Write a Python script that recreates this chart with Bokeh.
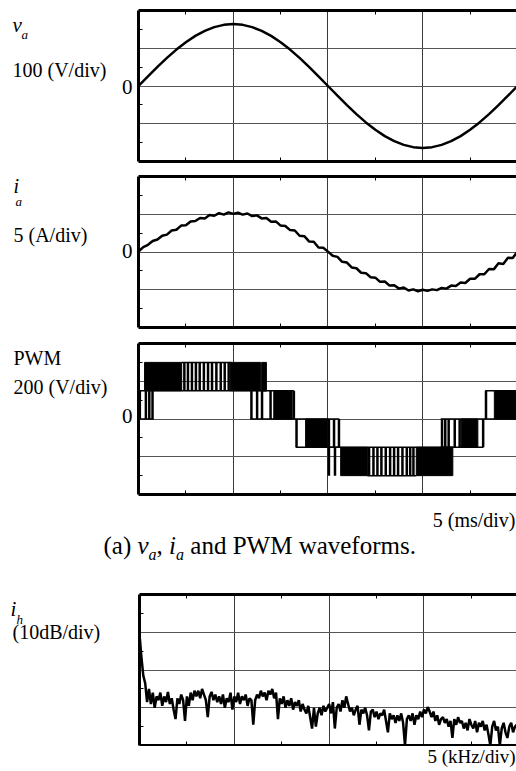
import numpy as np
from bokeh.plotting import figure
from bokeh.models import Range1d, FixedTicker, LinearAxis, Grid
from bokeh.layouts import column, row
from bokeh.core.properties import value
from bokeh.embed import file_html
from bokeh.resources import INLINE

SERIF = "Liberation Serif"

# ---------------- data ----------------
# v_a : phase voltage, 0.5 ms sampling, volts
va_t_ms = np.arange(0, 20.001, 0.5)
va_volts = [0, 25.7, 50.7, 74.5, 96.4, 116.0, 132.7, 146.1, 156.0, 162.0, 164.0,
            162.0, 156.0, 146.1, 132.7, 116.0, 96.4, 74.5, 50.7, 25.7, 0,
            -25.7, -50.7, -74.5, -96.4, -116.0, -132.7, -146.1, -156.0, -162.0, -164.0,
            -162.0, -156.0, -146.1, -132.7, -116.0, -96.4, -74.5, -50.7, -25.7, 0]

# i_a : phase current with switching ripple, 0.25 ms sampling, amperes
ia_t_ms = np.arange(0, 20.001, 0.25)
ia_amps = [0.05, 0.65, 0.95, 1.45, 1.65, 2.15, 2.30, 2.85, 2.95, 3.50,
           3.55, 4.05, 4.10, 4.50, 4.45, 4.90, 4.80, 5.15, 4.95, 5.25,
           5.05, 5.20, 4.95, 5.10, 4.75, 4.85, 4.45, 4.50, 4.00, 4.05,
           3.50, 3.45, 2.90, 2.85, 2.15, 2.10, 1.40, 1.35, 0.60, 0.55,
           0.05, -0.50, -0.65, -1.30, -1.40, -2.05, -2.15, -2.75, -2.80, -3.35,
           -3.40, -3.95, -3.90, -4.45, -4.40, -4.85, -4.70, -5.10, -4.95, -5.20,
           -5.00, -5.15, -4.95, -5.05, -4.75, -4.85, -4.45, -4.50, -4.05, -4.10,
           -3.55, -3.55, -2.95, -2.95, -2.25, -2.30, -1.50, -1.60, -0.75, -0.80,
           0.05]

# PWM : dense switching bands (ms, V)
pwm_block_t0 = [0.32, 4.85, 6.50, 7.14, 8.82, 10.67, 14.66, 17.04, 18.78]
pwm_block_t1 = [2.28, 6.45, 6.75, 8.11, 9.96, 12.08, 16.59, 17.91, 20.0]
pwm_block_lo = [150, 150, 150, 0, -150, -300, -300, -150, 0]
pwm_block_hi = [300, 300, 300, 150, 0, -150, -150, 0, 150]
# PWM : isolated switching pulses (ms, V)
pwm_pulse_t = [0.07, 0.39, 0.57, 0.74,
               2.42, 2.61, 2.82, 3.03, 3.23, 3.45, 3.67, 3.88, 4.11, 4.34, 4.55, 4.76,
               5.96, 6.26, 6.52, 6.97, 8.20,
               8.34, 10.05, 10.32, 10.58,
               10.05, 10.37,
               12.17, 12.40, 12.61, 12.82, 13.05, 13.28, 13.49, 13.70, 13.93, 14.16, 14.34, 14.51,
               16.02, 16.19, 16.37, 16.69, 16.95, 18.19,
               18.34]
pwm_pulse_lo = [0] * 4 + [150] * 12 + [0] * 5 + [-150] * 4 + [-300] * 2 + [-300] * 12 + [-150] * 6 + [0]
pwm_pulse_hi = [150] * 4 + [300] * 12 + [150] * 5 + [0] * 4 + [-150] * 2 + [-150] * 12 + [0] * 6 + [150]
# PWM : output levels held between pulses (ms, V)
pwm_lvl_t0 = [0.0, 0.0, 2.28, 5.90, 6.45, 8.30, 9.90, 12.08, 15.95, 15.95, 18.30]
pwm_lvl_t1 = [0.80, 6.75, 4.90, 10.60, 8.20, 10.65, 16.60, 14.66, 18.20, 20.0, 20.0]
pwm_lvl_v = [0, 150, 300, 0, 150, -150, -150, -300, -150, 0, 150]

# i_h : current harmonic spectrum, 0.1 kHz sampling, dB
spec_khz = np.arange(0, 20.001, 0.1)
spec_db = [-10.5, -16.5, -21.5, -23.5, -28.5, -25.0, -29.0, -26.0, -30.0, -27.0,
           -28.0, -26.0, -29.5, -27.0, -28.5, -25.8, -29.0, -27.5, -30.5, -33.0,
           -27.5, -29.0, -26.5, -28.0, -33.5, -27.0, -29.5, -26.0, -28.0, -25.5,
           -27.0, -25.5, -27.5, -25.0, -26.5, -28.0, -32.5, -27.0, -25.8, -28.0,
           -26.5, -28.5, -27.0, -29.0, -26.5, -30.0, -27.5, -28.5, -26.0, -30.5,
           -27.0, -28.5, -26.0, -29.0, -27.0, -28.0, -26.5, -29.5, -27.5, -28.0,
           -34.5, -28.0, -26.5, -27.5, -25.5, -27.0, -26.0, -28.0, -25.5, -26.5,
           -25.0, -27.5, -26.0, -33.0, -27.5, -29.0, -27.0, -30.0, -28.0, -29.5,
           -27.5, -30.5, -28.5, -29.5, -28.0, -31.0, -29.0, -30.5, -31.5, -29.5,
           -32.5, -35.5, -30.0, -35.0, -31.5, -30.0, -32.0, -29.5, -31.0, -30.0,
           -29.0, -31.5, -28.5, -35.5, -30.0, -29.0, -31.0, -28.0, -30.0, -27.0,
           -29.0, -31.0, -30.0, -32.0, -30.5, -29.5, -34.5, -30.5, -31.5, -30.0,
           -32.0, -36.0, -31.0, -30.5, -32.5, -31.0, -33.0, -31.5, -32.0, -30.5,
           -33.5, -36.5, -31.5, -33.0, -32.0, -34.0, -32.0, -33.5, -31.5, -34.0,
           -40.0, -33.0, -32.0, -33.5, -31.5, -34.5, -32.0, -33.0, -31.0, -32.5,
           -30.5, -31.5, -29.8, -31.0, -32.5, -31.0, -33.5, -32.0, -34.5, -33.0,
           -32.5, -34.0, -33.0, -35.0, -33.5, -38.0, -33.0, -34.5, -32.5, -34.0,
           -33.5, -35.5, -34.0, -36.0, -33.0, -34.5, -35.5, -33.5, -36.5, -34.0,
           -35.0, -33.5, -36.0, -34.5, -37.0, -40.0, -35.0, -33.5, -36.0, -35.0,
           -40.0, -35.5, -34.0, -36.5, -38.0, -35.0, -34.0, -36.5, -35.0, -34.5,
           -35.0]

# ---------------- helpers ----------------
W = 516


def panel(width, height, b_top, b_bottom, x_end, y_lo, y_hi, y_div, x_div):
    p = figure(width=width, height=height, x_range=Range1d(0, x_end), y_range=Range1d(y_lo, y_hi),
               output_backend="svg", toolbar_location=None, title=None,
               x_axis_type=None, y_axis_type=None,
               min_border_left=2, min_border_right=0,
               min_border_top=b_top, min_border_bottom=b_bottom,
               outline_line_color=None, border_fill_color="white",
               background_fill_color="white")
    x_grid = [x_div, 2 * x_div, 3 * x_div]
    y_grid = [y_lo + y_div, y_lo + 2 * y_div, y_lo + 3 * y_div]
    x_ticks = [x_div * (k + 0.5) for k in range(4)]
    y_ticks = [y_lo + y_div * (k + 0.5) for k in range(4)]
    p.add_layout(Grid(dimension=0, ticker=FixedTicker(ticks=x_grid),
                      grid_line_color="#3a3a3a", grid_line_width=1))
    p.add_layout(Grid(dimension=1, ticker=FixedTicker(ticks=y_grid),
                      grid_line_color="#555555", grid_line_width=1))
    for side, ticks in (("left", y_ticks), ("below", x_ticks), ("above", x_ticks)):
        ax = LinearAxis(ticker=FixedTicker(ticks=ticks, minor_ticks=[]),
                        axis_line_color="black", axis_line_width=3,
                        major_tick_in=4, major_tick_out=0,
                        major_tick_line_color="black", major_tick_line_width=1,
                        minor_tick_line_color=None, major_label_text_color=None,
                        major_label_standoff=0, major_label_text_font_size="0px")
        p.add_layout(ax, side)
    return p


def text_fig(w, h, b_top, b_bottom, page_top):
    # frame spans page rows (page_top + b_top) .. (page_top + h - b_bottom); y axis = page pixel row
    t = figure(width=w, height=h, x_range=Range1d(0, w),
               y_range=Range1d(page_top + h - b_bottom, page_top + b_top),
               output_backend="svg", toolbar_location=None, title=None,
               x_axis_type=None, y_axis_type=None,
               min_border_left=0, min_border_right=0,
               min_border_top=b_top, min_border_bottom=b_bottom,
               outline_line_color=None, border_fill_color="white",
               background_fill_color="white")
    return t


def put(t, x, base, s, size, italic=False, align="left"):
    # base = page row of the text baseline; the drawn anchor sits ~0.4 em above it
    t.text(x=[x], y=[base - 0.4 * size], text=[s], text_font=value(SERIF),
           text_font_size=value(f"{size}px"),
           text_font_style="italic" if italic else "normal",
           text_align=align, text_baseline="alphabetic", text_color="black")


# ---------------- panel 1: v_a  (page y 0..169) ----------------
p1 = panel(380, 169, 10, 8, 19.95, -200, 200, 100, 5)
p1.line(va_t_ms, va_volts, line_color="black", line_width=2.5)
l1 = text_fig(136, 169, 10, 8, 0)
put(l1, 12, 33, "v", 21, italic=True)
put(l1, 21, 39, "a", 13, italic=True)
put(l1, 12, 77, "100 (V/div)", 20)
put(l1, 132, 95, "0", 21, align="right")

# ---------------- panel 2: i_a  (page y 169..335) ----------------
p2 = panel(380, 166, 7, 8, 19.95, -10, 10, 5, 5)
p2.line(ia_t_ms, ia_amps, line_color="black", line_width=2.5)
l2 = text_fig(136, 166, 7, 8, 169)
put(l2, 13, 193, "i", 20, italic=True)
put(l2, 15, 206, "a", 13, italic=True)
put(l2, 13, 242, "5 (A/div)", 20)
put(l2, 132, 259, "0", 21, align="right")

# ---------------- panel 3: PWM  (page y 335..496) ----------------
p3 = panel(380, 161, 8, 2, 19.95, -400, 400, 200, 5)
p3.quad(left=pwm_block_t0, right=pwm_block_t1, bottom=pwm_block_lo, top=pwm_block_hi,
        fill_color="black", line_color="black", line_width=1)
p3.segment(x0=pwm_lvl_t0, y0=pwm_lvl_v, x1=pwm_lvl_t1, y1=pwm_lvl_v,
           line_color="black", line_width=1.5)
p3.segment(x0=pwm_pulse_t, y0=pwm_pulse_lo, x1=pwm_pulse_t, y1=pwm_pulse_hi,
           line_color="black", line_width=2.5)
l3 = text_fig(136, 161, 8, 2, 335)
put(l3, 13, 365, "PWM", 20)
put(l3, 13, 394, "200 (V/div)", 20)
put(l3, 132, 424, "0", 21, align="right")

# x-scale note and caption  (page y 496..573)
c1 = text_fig(W, 77, 0, 0, 496)
put(c1, 515, 527, "5 (ms/div)", 20, align="right")
put(c1, 103, 555, "(a)", 25)
put(c1, 137, 555, "v", 25, italic=True)
put(c1, 148.1, 560, "a", 16, italic=True)
put(c1, 156.1, 555, ",", 25)
put(c1, 168.6, 555, "i", 25, italic=True)
put(c1, 175.5, 560, "a", 16, italic=True)
put(c1, 189.8, 555, "and PWM waveforms.", 25)

# ---------------- panel 4: i_h spectrum  (page y 573..746) ----------------
p4 = panel(379, 173, 21, 1, 19.88, -40, 0, 10, 5)
p4.line(spec_khz, spec_db, line_color="black", line_width=2.5)
l4 = text_fig(137, 173, 21, 1, 573)
put(l4, 10, 617, "i", 21, italic=True)
put(l4, 16, 624, "h", 13, italic=True)
put(l4, 12, 639, "(10dB/div)", 20)

# x-scale note  (page y 746..771)
c2 = text_fig(W, 25, 0, 0, 746)
put(c2, 515, 764, "5 (kHz/div)", 19, align="right")

layout = column(row(l1, p1, spacing=0), row(l2, p2, spacing=0), row(l3, p3, spacing=0),
                c1, row(l4, p4, spacing=0), c2, spacing=0)
open("out.html", "w").write(file_html(layout, INLINE))
